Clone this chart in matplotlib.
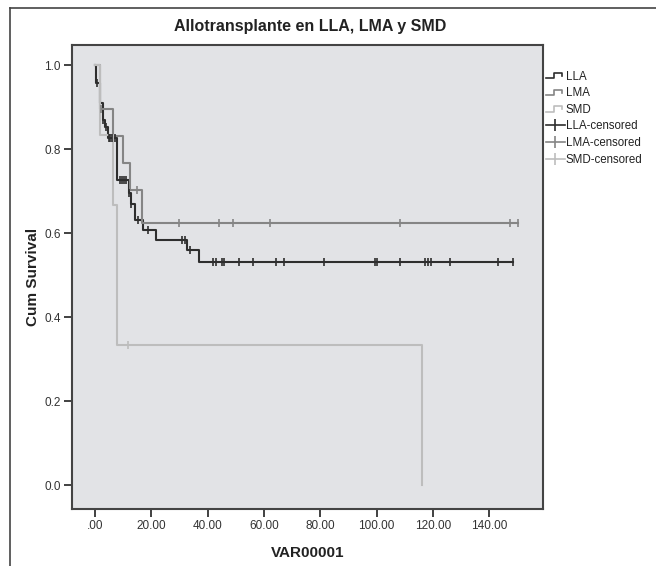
import numpy as np
import matplotlib
matplotlib.use("Agg")
import matplotlib.pyplot as plt
from matplotlib.lines import Line2D
from matplotlib.legend_handler import HandlerBase

plt.rcParams['font.family'] = ['Liberation Sans', 'DejaVu Sans']

# ---- data ----
groups = ["LLA", "LMA", "SMD"]

lla_time = [0, 0.3, 1.9, 2.8, 3.7, 4.6, 7.7, 12.0, 12.8, 14.2, 17.1, 21.8, 32.6, 37.1, 148.3]
lla_surv = [1.0, 0.957, 0.91, 0.87, 0.853, 0.826, 0.726, 0.695, 0.670, 0.631, 0.607, 0.584, 0.560, 0.532, 0.532]
lla_cens = [0.6, 3.0, 4.0, 4.9, 5.5, 6.2, 7.0, 8.9, 9.6, 10.3, 11.2, 12.2, 13.0, 15.4, 19.0,
            31.1, 31.9, 33.9, 42.0, 42.9, 45.0, 45.8, 51.2, 56.1, 64.2, 67.0, 81.2, 99.3,
            100.1, 108.2, 117.0, 118.2, 119.4, 126.1, 143.0, 148.3]

lma_time = [0, 1.8, 6.3, 10.0, 12.4, 16.8, 150.1]
lma_surv = [1.0, 0.895, 0.832, 0.766, 0.702, 0.625, 0.625]
lma_cens = [2.2, 14.8, 30.0, 44.2, 49.0, 62.1, 108.2, 147.2, 150.1]

smd_time = [0, 2.0, 6.3, 7.9, 116.0]
smd_surv = [1.0, 0.833, 0.667, 0.333, 0.0]
smd_cens = [11.7]

colors = ["#2e2e2e", "#858585", "#bdbdbd"]

x_ticks = [0, 20, 40, 60, 80, 100, 120, 140]
x_labels = [".00", "20.00", "40.00", "60.00", "80.00", "100.00", "120.00", "140.00"]
y_ticks = [0.0, 0.2, 0.4, 0.6, 0.8, 1.0]
y_labels = ["0.0", "0.2", "0.4", "0.6", "0.8", "1.0"]

# ---- figure ----
fig = plt.figure(figsize=(6.56, 5.66), dpi=100)
ax = fig.add_axes([72/656, 1-509/566, (543-72)/656, (509-45)/566])
ax.set_facecolor("#e2e3e6")

series = [(lla_time, lla_surv, lla_cens), (lma_time, lma_surv, lma_cens), (smd_time, smd_surv, smd_cens)]
for (t, s, c), col in zip(series, colors):
    t = np.asarray(t); s = np.asarray(s)
    ax.step(t, s, where='post', color=col, lw=1.5, zorder=3)
    idx = np.searchsorted(t, c, side='right') - 1
    ax.plot(c, s[idx], linestyle='none', marker='|', markersize=6, mew=1.2, color=col, zorder=4)

ax.set_xlim(-8.1, 159)
ax.set_ylim(-0.057, 1.048)
ax.set_xticks(x_ticks)
ax.set_xticklabels(x_labels, fontsize=8.5, color="#333333")
ax.set_yticks(y_ticks)
ax.set_yticklabels(y_labels, fontsize=8.5, color="#333333")
ax.tick_params(direction='out', length=6, width=1.3, color="#333333", pad=2)
for sp in ax.spines.values():
    sp.set_color("#444444")
    sp.set_linewidth(1.5)

ax.set_xlabel("VAR00001", fontsize=11, fontweight='bold', color="#222222", labelpad=10)
ax.set_ylabel("Cum Survival", fontsize=11, fontweight='bold', color="#222222", labelpad=3)
fig.text(0.473, 1-27/566, "Allotransplante en LLA, LMA y SMD", ha='center', va='center',
         fontsize=11.5, fontweight='bold', color="#222222")

# outer frame (left and top border)
fig.add_artist(Line2D([10/656, 10/656], [0, 1-8/566], color="#444444", lw=1.2, transform=fig.transFigure))
fig.add_artist(Line2D([10/656, 1], [1-8/566, 1-8/566], color="#444444", lw=1.2, transform=fig.transFigure))

# ---- legend ----
class StepHandler(HandlerBase):
    def create_artists(self, legend, orig_handle, xdescent, ydescent, width, height, fontsize, trans):
        x = np.array([0, 0.45, 0.45, 0.85, 0.85]) * width - xdescent
        y = np.array([0.15, 0.15, 0.8, 0.8, 0.45]) * height - ydescent
        ln = Line2D(x, y, color=orig_handle.get_color(), lw=1.2, transform=trans)
        return [ln]

handles = []
labels = []
for g, col in zip(groups, colors):
    handles.append(Line2D([], [], color=col))
    labels.append(g)
for g, col in zip(groups, colors):
    handles.append(Line2D([], [], color=col, lw=1.2, marker='|', markersize=9, mew=1.2))
    labels.append(g + "-censored")

hmap = {h: StepHandler() for h in handles[:3]}
leg = fig.legend(handles, labels, loc='upper left', bbox_to_anchor=(541/656, 1-66/566),
                 frameon=False, fontsize=8.3, handlelength=1.7, handletextpad=0.05,
                 labelspacing=0.40, borderaxespad=0, numpoints=1, handler_map=hmap)
for txt in leg.get_texts():
    txt.set_color("#222222")

fig.savefig("out.png", dpi=100)
